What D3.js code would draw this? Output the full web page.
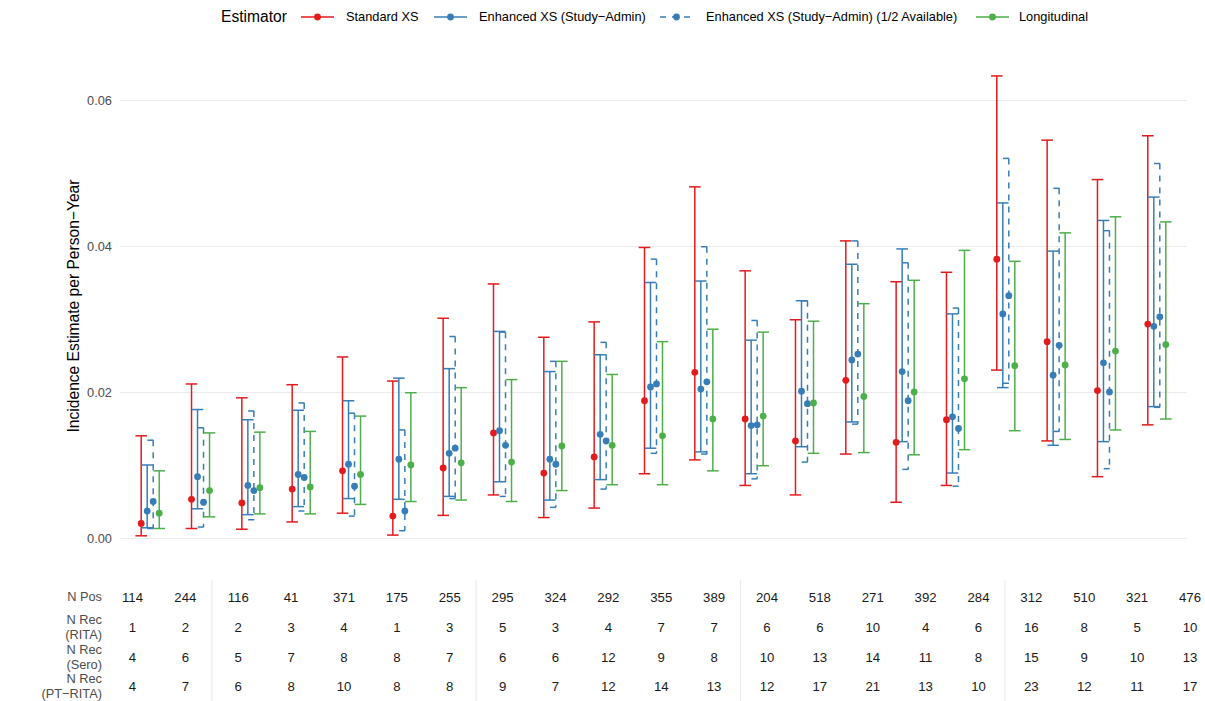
<!DOCTYPE html>
<html><head><meta charset="utf-8">
<script src="https://cdn.jsdelivr.net/npm/d3@7"></script>
<style>
body{margin:0;background:#fff}
svg{display:block;font-family:"Liberation Sans",Arial,Helvetica,sans-serif}
</style>
</head><body>
<svg id="chart" width="1205" height="701"></svg>
<script>
// ---------- data ----------
const groups = ["1","2","3","4","5","6","7","8","9","10","11","12","13","14","15","16","17","18","19","20","21"];
const seriesNames = ["Standard XS","Enhanced XS (Study\u2212Admin)","Enhanced XS (Study\u2212Admin) (1/2 Available)","Longitudinal"];

const stdPt = [0.0020,0.0053,0.0048,0.0067,0.0092,0.0030,0.0096,0.0144,0.0089,0.0111,0.0188,0.0227,0.0163,0.0133,0.0216,0.0131,0.0162,0.0382,0.0269,0.0202,0.0293];
const stdLo = [0.0003,0.0013,0.0012,0.0022,0.0034,0.0004,0.0031,0.0059,0.0028,0.0041,0.0088,0.0107,0.0072,0.0059,0.0115,0.0049,0.0072,0.0230,0.0133,0.0084,0.0155];
const stdHi = [0.0140,0.0211,0.0192,0.0210,0.0248,0.0215,0.0301,0.0348,0.0275,0.0296,0.0398,0.0481,0.0366,0.0299,0.0407,0.0351,0.0364,0.0633,0.0545,0.0491,0.0551];

const enhPt = [0.0037,0.0084,0.0072,0.0087,0.0101,0.0108,0.0116,0.0147,0.0108,0.0142,0.0207,0.0204,0.0154,0.0201,0.0244,0.0228,0.0166,0.0307,0.0223,0.0240,0.0290];
const enhLo = [0.0014,0.0040,0.0032,0.0043,0.0054,0.0053,0.0057,0.0077,0.0052,0.0080,0.0123,0.0118,0.0088,0.0125,0.0159,0.0132,0.0089,0.0206,0.0127,0.0132,0.0180];
const enhHi = [0.0100,0.0176,0.0162,0.0175,0.0188,0.0219,0.0232,0.0283,0.0228,0.0251,0.0350,0.0352,0.0271,0.0325,0.0375,0.0396,0.0307,0.0459,0.0393,0.0435,0.0467];

const halfPt = [0.0050,0.0049,0.0065,0.0083,0.0071,0.0037,0.0123,0.0127,0.0101,0.0133,0.0211,0.0214,0.0155,0.0184,0.0252,0.0188,0.0150,0.0332,0.0264,0.0200,0.0303];
const halfLo = [0.0013,0.0015,0.0025,0.0037,0.0030,0.0010,0.0054,0.0057,0.0042,0.0067,0.0116,0.0115,0.0081,0.0104,0.0156,0.0094,0.0071,0.0212,0.0146,0.0095,0.0179];
const halfHi = [0.0134,0.0151,0.0174,0.0185,0.0171,0.0148,0.0276,0.0282,0.0242,0.0268,0.0382,0.0399,0.0298,0.0325,0.0407,0.0377,0.0315,0.0520,0.0479,0.0421,0.0513];

const lonPt = [0.0034,0.0065,0.0069,0.0070,0.0087,0.0100,0.0103,0.0104,0.0126,0.0127,0.0140,0.0163,0.0167,0.0185,0.0194,0.0200,0.0218,0.0236,0.0237,0.0256,0.0265];
const lonLo = [0.0013,0.0029,0.0033,0.0033,0.0046,0.0050,0.0052,0.0050,0.0065,0.0073,0.0073,0.0092,0.0099,0.0116,0.0117,0.0114,0.0121,0.0147,0.0135,0.0148,0.0163];
const lonHi = [0.0092,0.0144,0.0145,0.0146,0.0167,0.0199,0.0206,0.0217,0.0242,0.0224,0.0269,0.0286,0.0282,0.0297,0.0321,0.0353,0.0394,0.0379,0.0418,0.0440,0.0433];

const yTicks = [0, 0.02, 0.04, 0.06];

const tableRowLabels = [["N Pos"],["N Rec","(RITA)"],["N Rec","(Sero)"],["N Rec","(PT\u2212RITA)"]];
const nPos      = [114,244,116,41,371,175,255,295,324,292,355,389,204,518,271,392,284,312,510,321,476];
const nRecRita  = [1,2,2,3,4,1,3,5,3,4,7,7,6,6,10,4,6,16,8,5,10];
const nRecSero  = [4,6,5,7,8,8,7,6,6,12,9,8,10,13,14,11,8,15,9,10,13];
const nRecPt    = [4,7,6,8,10,8,8,9,7,12,14,13,12,17,21,13,10,23,12,11,17];
const tableGroupBreaks = [2,7,12,17]; // separators before these column indexes

// ---------- layout ----------
const colors = ["#E41A1C","#377EB8","#377EB8","#4DAF4A"];
const dashed = [false,false,true,false];
const series = [
  {pt:stdPt, lo:stdLo, hi:stdHi},
  {pt:enhPt, lo:enhLo, hi:enhHi},
  {pt:halfPt, lo:halfLo, hi:halfHi},
  {pt:lonPt, lo:lonLo, hi:lonHi}
];

const svg = d3.select("#chart");
const panel = {left:120, right:1187};
const x = d3.scalePoint().domain(groups).range([panel.left, panel.right]).padding(0.6);
const step = x.step();
const y = d3.scaleLinear().domain([0, 0.06]).range([538, 100]);
const dodge = d3.scaleLinear().domain([0, 3]).range([-0.179*step, 0.179*step]);
const capHalf = 0.115*step;
const dashArr = "6,6";

// grid + y axis
const yAxis = d3.axisLeft(y).tickValues(yTicks).tickFormat(d3.format(".2f"))
  .tickSize(-(panel.right-panel.left)).tickPadding(8);
const ga = svg.append("g").attr("transform",`translate(${panel.left},0)`).call(yAxis);
ga.select(".domain").remove();
ga.selectAll(".tick line").attr("stroke","#ebebeb").attr("stroke-width",1.1);
ga.selectAll(".tick text").attr("fill","#4d4d4d").style("font-size","12.8px")
  .attr("font-family",null);

// y title
svg.append("text")
  .attr("transform","translate(79,306) rotate(-90)")
  .attr("text-anchor","middle")
  .attr("fill","#000")
  .style("font-size","15.6px")
  .text("Incidence Estimate per Person\u2212Year");

// error bars
const rows = [];
groups.forEach((g,i)=>{
  series.forEach((s,j)=>{
    rows.push({g, j, pt:s.pt[i], lo:s.lo[i], hi:s.hi[i]});
  });
});
const bars = svg.append("g").selectAll("g").data(rows).join("g")
  .attr("stroke", d=>colors[d.j])
  .attr("stroke-width",1.5)
  .attr("fill","none")
  .attr("stroke-dasharray", d=>dashed[d.j]?dashArr:null);
const cx = d => x(d.g) + dodge(d.j);
bars.append("line").attr("x1",d=>cx(d)-capHalf).attr("x2",d=>cx(d)+capHalf)
  .attr("y1",d=>y(d.hi)).attr("y2",d=>y(d.hi));
bars.append("line").attr("x1",cx).attr("x2",cx)
  .attr("y1",d=>y(d.hi)).attr("y2",d=>y(d.lo));
bars.append("line").attr("x1",d=>cx(d)-capHalf).attr("x2",d=>cx(d)+capHalf)
  .attr("y1",d=>y(d.lo)).attr("y2",d=>y(d.lo));

svg.append("g").selectAll("circle").data(rows).join("circle")
  .attr("cx",cx).attr("cy",d=>y(d.pt)).attr("r",3.4)
  .attr("fill",d=>colors[d.j]);

// legend
const leg = svg.append("g");
leg.append("text").attr("x",221).attr("y",17).attr("dy","0.35em")
  .style("font-size","15.6px").attr("fill","#000").text("Estimator");
const keyStart = [301,434,660,976];
const labelStart = [346,479,706,1019];
seriesNames.forEach((name,j)=>{
  const k = leg.append("g");
  k.append("line").attr("x1",keyStart[j]).attr("x2",keyStart[j]+33)
    .attr("y1",17).attr("y2",17).attr("stroke",colors[j]).attr("stroke-width",1.5)
    .attr("stroke-dasharray",dashed[j]?dashArr:null);
  k.append("circle").attr("cx",keyStart[j]+16.5).attr("cy",17).attr("r",3.4).attr("fill",colors[j]);
  k.append("text").attr("x",labelStart[j]).attr("y",17).attr("dy","0.35em")
    .style("font-size","12.8px").attr("fill","#000").text(name);
});

// table below
const tx = d3.scaleLinear().domain([0,20]).range([132.5, 1190]);
const rowY = [597, 627, 657, 686];
const tableData = [nPos, nRecRita, nRecSero, nRecPt];
const tg = svg.append("g");
tg.selectAll("line").data(tableGroupBreaks).join("line")
  .attr("x1",d=>tx(d-0.5)).attr("x2",d=>tx(d-0.5))
  .attr("y1",580).attr("y2",701).attr("stroke","#ebebeb").attr("stroke-width",1.1);
tableRowLabels.forEach((lines,r)=>{
  const t = tg.append("text").attr("text-anchor","end").attr("fill","#4d4d4d")
    .style("font-size","12.8px");
  lines.forEach((ln,k)=>{
    const off = lines.length===1 ? 0 : (k===0 ? -7.3 : 7.3);
    t.append("tspan").attr("x",102).attr("y",rowY[r]+off).attr("dy","0.35em").text(ln);
  });
  tg.append("g").selectAll("text").data(tableData[r]).join("text")
    .attr("x",(d,i)=>tx(i)).attr("y",rowY[r]).attr("dy","0.35em")
    .attr("text-anchor","middle").attr("fill","#1a1a1a").style("font-size","13.2px")
    .text(d=>d);
});
</script>
</body></html>
